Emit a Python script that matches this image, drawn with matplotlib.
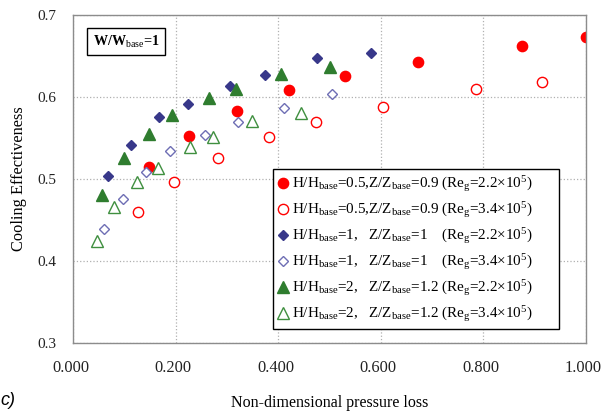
import matplotlib
matplotlib.use("Agg")
import matplotlib.pyplot as plt
from matplotlib.transforms import ScaledTranslation

plt.rcParams['font.family'] = ['Liberation Serif', 'DejaVu Serif']
plt.rcParams['mathtext.fontset'] = 'custom'
plt.rcParams['mathtext.rm'] = 'Liberation Serif'
plt.rcParams['mathtext.it'] = 'Liberation Serif:italic'
plt.rcParams['mathtext.bf'] = 'Liberation Serif:bold'

# H/Hbase=0.5, Z/Zbase=0.9
x_h05_re22 = [0.148, 0.225, 0.320, 0.420, 0.529, 0.673, 0.876, 1.000]
y_h05_re22 = [0.515, 0.552, 0.583, 0.608, 0.625, 0.642, 0.662, 0.673]
x_h05_re34 = [0.126, 0.196, 0.283, 0.382, 0.473, 0.604, 0.786, 0.914]
y_h05_re34 = [0.460, 0.496, 0.525, 0.551, 0.569, 0.588, 0.609, 0.618]
# H/Hbase=1, Z/Zbase=1
x_h1_re22 = [0.068, 0.113, 0.167, 0.223, 0.305, 0.374, 0.475, 0.581]
y_h1_re22 = [0.504, 0.541, 0.575, 0.591, 0.613, 0.627, 0.647, 0.653]
x_h1_re34 = [0.059, 0.097, 0.141, 0.188, 0.257, 0.322, 0.410, 0.504]
y_h1_re34 = [0.439, 0.476, 0.508, 0.534, 0.554, 0.570, 0.586, 0.603]
# H/Hbase=2, Z/Zbase=1.2
x_h2_re22 = [0.056, 0.098, 0.148, 0.192, 0.265, 0.318, 0.406, 0.501]
y_h2_re22 = [0.480, 0.526, 0.555, 0.578, 0.599, 0.610, 0.628, 0.636]
x_h2_re34 = [0.046, 0.080, 0.125, 0.166, 0.228, 0.273, 0.348, 0.445]
y_h2_re34 = [0.424, 0.466, 0.496, 0.514, 0.539, 0.551, 0.571, 0.580]

labels = [
    r"H/H$_{\rm base}$=0.5,Z/Z$_{\rm base}$=0.9 (Re$_{\rm g}$=2.2×10$^{5}$)",
    r"H/H$_{\rm base}$=0.5,Z/Z$_{\rm base}$=0.9 (Re$_{\rm g}$=3.4×10$^{5}$)",
    r"H/H$_{\rm base}$=1,   Z/Z$_{\rm base}$=1    (Re$_{\rm g}$=2.2×10$^{5}$)",
    r"H/H$_{\rm base}$=1,   Z/Z$_{\rm base}$=1    (Re$_{\rm g}$=3.4×10$^{5}$)",
    r"H/H$_{\rm base}$=2,   Z/Z$_{\rm base}$=1.2 (Re$_{\rm g}$=2.2×10$^{5}$)",
    r"H/H$_{\rm base}$=2,   Z/Z$_{\rm base}$=1.2 (Re$_{\rm g}$=3.4×10$^{5}$)",
]
xticks = [0.0, 0.2, 0.4, 0.6, 0.8, 1.0]
yticks = [0.3, 0.4, 0.5, 0.6, 0.7]

red = '#FF0000'
navy = '#38388A'
lav = '#6E6EB4'
green = '#2F7D2F'
lgreen = '#3F8F3F'

fig = plt.figure(figsize=(6.02, 4.11), dpi=100)
ax = fig.add_axes([0.1218, 0.1647, 0.8516, 0.7995])

ax.plot(x_h05_re22, y_h05_re22, 'o', ms=7.4, mfc=red, mec=red, label=labels[0])
ax.plot(x_h05_re34, y_h05_re34, 'o', ms=7.4, mfc='white', mec=red, mew=1.0, label=labels[1])
ax.plot(x_h1_re22, y_h1_re22, 'D', ms=5.6, mfc=navy, mec=navy, label=labels[2])
ax.plot(x_h1_re34, y_h1_re34, 'D', ms=5.6, mfc='white', mec=lav, mew=1.0, label=labels[3])
ax.plot(x_h2_re22, y_h2_re22, '^', ms=8.4, mfc=green, mec=green, label=labels[4])
ax.plot(x_h2_re34, y_h2_re34, '^', ms=8.4, mfc='white', mec=lgreen, mew=1.0, label=labels[5])

ax.set_xlim(0, 1.0)
ax.set_ylim(0.3, 0.7)
ax.set_xticks(xticks)
ax.set_yticks(yticks)
ax.set_xticklabels(["%.3f" % v for v in xticks])
ax.set_yticklabels(["%.1f" % v for v in yticks])
ax.tick_params(length=0, colors='#222222')
ax.tick_params(axis='x', pad=12, labelsize=11.8)
ax.tick_params(axis='y', pad=12, labelsize=11)
# x labels sit a little left of their grid lines in the original
shift = ScaledTranslation(-0.025, 0, fig.dpi_scale_trans)
for lbl in ax.get_xticklabels():
    lbl.set_transform(lbl.get_transform() + shift)
ax.grid(True, color='#B0B0B0', linestyle=':', linewidth=0.9)
for s in ax.spines.values():
    s.set_color('#8C8C8C')
    s.set_linewidth(1.0)

ax.set_xlabel("Non-dimensional pressure loss", fontsize=11.5, labelpad=14)
ax.set_ylabel("Cooling Effectiveness", fontsize=11.8)
ax.yaxis.set_label_coords(-0.090, 0.5)

ax.text(0.038, 0.918, r"W/W$_{\rm base}$=1", transform=ax.transAxes, fontsize=10.2,
        fontweight='bold', ha='left', va='center',
        bbox=dict(boxstyle='square,pad=0.38', fc='white', ec='black', lw=1.0))

leg = ax.legend(loc='upper left', bbox_to_anchor=(0.39, 0.0, 0.558, 0.5304),
                mode='expand', fontsize=10.9,
                frameon=True, fancybox=False, edgecolor='black', framealpha=1,
                handlelength=0.6, handletextpad=0.3, labelspacing=0.41,
                borderpad=0.33, borderaxespad=0.0)
leg.get_frame().set_linewidth(1.0)

fig.text(0.0, 0.025, "c)", fontsize=13, family='Liberation Sans', style='italic',
         ha='left', va='center')

fig.savefig("out.png", dpi=100)
